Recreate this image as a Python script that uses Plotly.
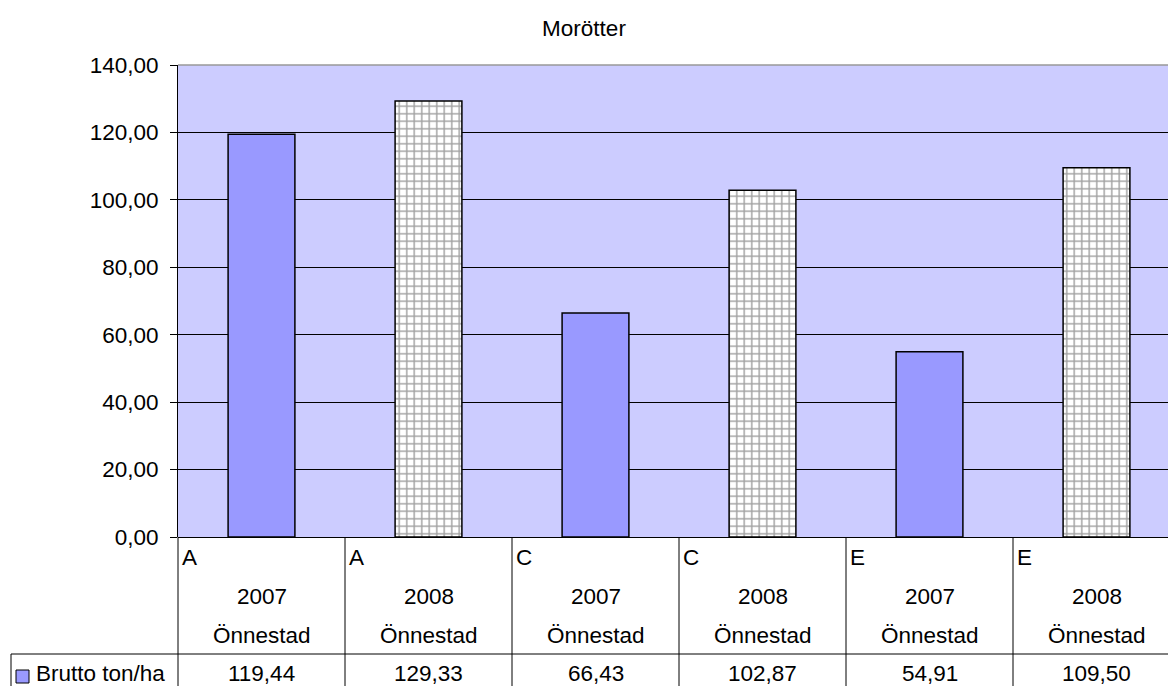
import plotly.graph_objects as go

title = "Morötter"
series_name = "Brutto ton/ha"
sites = ["A", "A", "C", "C", "E", "E"]
years = ["2007", "2008", "2007", "2008", "2007", "2008"]
places = ["Önnestad"] * 6
values = [119.44, 129.33, 66.43, 102.87, 54.91, 109.50]
y_ticks = [0, 20, 40, 60, 80, 100, 120, 140]

W, H = 1168, 686
L, T, B_PX = 178, 65, 537
PLOT_W = W - L
PLOT_H = B_PX - T
CAT_PX = 167.0
FONT = "Liberation Sans, Arial, sans-serif"
FS = 22.5
BAR = "#9999FF"


def px2x(px):
    return (px - L) / PLOT_W


def py2y(py):
    return (B_PX - py) / PLOT_H


is2008 = [y == "2008" for y in years]

fig = go.Figure()
fig.add_trace(go.Bar(
    x=list(range(len(values))),
    y=values,
    name=series_name,
    width=0.4,
    marker=dict(
        color=["white" if b else BAR for b in is2008],
        line=dict(color="black", width=1.5),
        pattern=dict(
            shape=["+" if b else "" for b in is2008],
            fgcolor="#444444",
            bgcolor="white",
            size=7.5,
            solidity=0.35,
            fillmode="overlay",
        ),
    ),
    showlegend=False,
))

n = len(values)
x_max = -0.5 + PLOT_W / CAT_PX

shapes = []
annotations = []

# top border (gray)
shapes.append(dict(type="line", xref="paper", yref="paper", x0=0, x1=1, y0=1, y1=1,
                   line=dict(color="#999999", width=1.5)))
# left axis extension through table
shapes.append(dict(type="line", xref="paper", yref="paper", x0=0, x1=0,
                   y0=0, y1=py2y(H + 5), line=dict(color="black", width=1)))
# vertical category separators through table
for i in range(n):
    xb = i + 0.5
    if xb < x_max:
        shapes.append(dict(type="line", xref="x", yref="paper", x0=xb, x1=xb,
                           y0=0, y1=py2y(H + 5), line=dict(color="black", width=1)))
# horizontal line above the values row
shapes.append(dict(type="line", xref="paper", yref="paper", x0=px2x(11), x1=1.01,
                   y0=py2y(654), y1=py2y(654), line=dict(color="black", width=1)))
# left border of legend cell
shapes.append(dict(type="line", xref="paper", yref="paper", x0=px2x(11), x1=px2x(11),
                   y0=py2y(654), y1=py2y(H + 5), line=dict(color="black", width=1)))
# legend key
shapes.append(dict(type="rect", xref="paper", yref="paper", x0=px2x(16), x1=px2x(29),
                   y0=py2y(683), y1=py2y(670), fillcolor=BAR,
                   line=dict(color="black", width=1)))

tf = dict(family=FONT, size=FS, color="black")
for i in range(n):
    annotations.append(dict(x=i - 0.5, y=py2y(557), xref="x", yref="paper", text=sites[i],
                            showarrow=False, xanchor="left", yanchor="middle", xshift=2, font=tf))
    annotations.append(dict(x=i, y=py2y(596), xref="x", yref="paper", text=years[i],
                            showarrow=False, xanchor="center", yanchor="middle", font=tf))
    annotations.append(dict(x=i, y=py2y(635), xref="x", yref="paper", text=places[i],
                            showarrow=False, xanchor="center", yanchor="middle", font=tf))
    annotations.append(dict(x=i, y=py2y(673), xref="x", yref="paper",
                            text=f"{values[i]:.2f}".replace(".", ","),
                            showarrow=False, xanchor="center", yanchor="middle", font=tf))
annotations.append(dict(x=px2x(34), y=py2y(673), xref="paper", yref="paper", text=series_name,
                        showarrow=False, xanchor="left", yanchor="middle", font=tf))

fig.update_layout(
    width=W, height=H,
    margin=dict(l=L, r=0, t=T, b=H - B_PX, pad=0),
    paper_bgcolor="white",
    plot_bgcolor="#CCCCFF",
    separators=", ",
    font=dict(family=FONT, size=FS, color="black"),
    title=dict(text=title, x=0.5, xanchor="center", xref="container",
               y=1 - 28 / H, yref="container", yanchor="middle",
               font=dict(family=FONT, size=FS, color="black")),
    xaxis=dict(range=[-0.5, x_max], showticklabels=False, showgrid=False,
               zeroline=False, showline=False, ticks="", fixedrange=True),
    yaxis=dict(range=[0, 140], tickvals=y_ticks, tickformat=".2f",
               showgrid=True, gridcolor="black", gridwidth=1,
               zeroline=True, zerolinecolor="black", zerolinewidth=1,
               showline=True, linecolor="black", linewidth=1,
               ticks="outside", ticklen=7, tickcolor="black", ticklabelstandoff=7,
               tickfont=dict(family=FONT, size=FS, color="black")),
    shapes=shapes,
    annotations=annotations,
    bargap=0.6,
)

fig.write_html("out.html",
               config={"displayModeBar": False},
               post_script="document.body.style.margin='0';document.body.style.overflow='hidden';")
